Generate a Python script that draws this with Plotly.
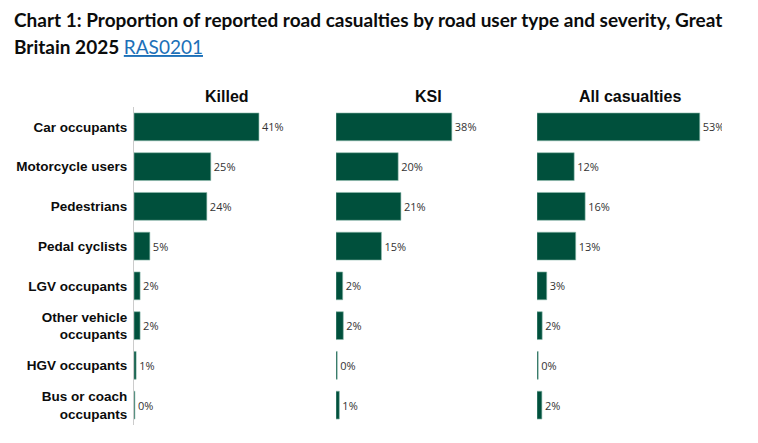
import plotly.graph_objects as go

categories = ["Car occupants", "Motorcycle users", "Pedestrians", "Pedal cyclists",
              "LGV occupants", "Other vehicle<br>occupants", "HGV occupants",
              "Bus or coach<br>occupants"]
killed = [41.0, 25.2, 23.9, 5.2, 2.0, 2.0, 0.7, 0.3]
ksi = [38.0, 20.4, 21.3, 14.9, 2.2, 2.4, 0.4, 1.1]
all_casualties = [53.4, 12.2, 15.8, 12.7, 3.2, 1.7, 0.4, 1.6]
panel_titles = ["Killed", "KSI", "All casualties"]
series = [killed, ksi, all_casualties]

W, H = 758, 443
BAR = "#00503c"
domains = [(134, 319), (336, 521), (537, 722)]
y_top, y_bot = 107, 425
xmax = 60.7

fig = go.Figure()
for i, (vals, dom) in enumerate(zip(series, domains)):
    n = "" if i == 0 else str(i + 1)
    fig.add_trace(go.Bar(
        x=vals, y=categories, orientation="h",
        xaxis="x" + n, yaxis="y" + n,
        marker=dict(color=BAR, line=dict(color="#8fbcae", width=0.6)),
        texttemplate="%{x:.0f}%", textposition="outside",
        textfont=dict(family="Open Sans", size=11, color="#333333"),
        constraintext="none", cliponaxis=True,
        hoverinfo="skip", showlegend=False,
    ))
    fig.layout["xaxis" + n] = dict(
        domain=[dom[0] / W, dom[1] / W], range=[0, xmax], visible=False,
        anchor="y" + n, fixedrange=True)
    fig.layout["yaxis" + n] = dict(
        domain=[1 - y_bot / H, 1 - y_top / H], anchor="x" + n,
        categoryorder="array", categoryarray=categories, autorange="reversed",
        showticklabels=(i == 0), showline=(i == 0), linecolor="#cccccc", linewidth=1,
        showgrid=False, zeroline=False, ticks="", ticklabelstandoff=3,
        tickfont=dict(family="Liberation Sans", size=13.5, color="#0b0c0c", weight="bold"),
        fixedrange=True)
    fig.add_annotation(
        x=(dom[0] + dom[1]) / 2 / W, y=1 - 96 / H, xref="paper", yref="paper",
        text=panel_titles[i], showarrow=False, xanchor="center", yanchor="middle",
        font=dict(family="Liberation Sans", size=16, color="#0b0c0c", weight="bold"))

title_font = dict(family="Lato", size=19, color="#0b0c0c", weight="bold")
fig.add_annotation(
    x=12 / W, y=1 - 20 / H, xref="paper", yref="paper", xanchor="left", yanchor="middle",
    showarrow=False, font=title_font,
    text="Chart 1: Proportion of reported road casualties by road user type and severity, Great")
fig.add_annotation(
    x=12 / W, y=1 - 46 / H, xref="paper", yref="paper", xanchor="left", yanchor="middle",
    showarrow=False, font=title_font,
    text="Britain 2025 <span style='font-weight:normal;fill:#1d70b8'><u>RAS0201</u></span>")

fig.update_layout(
    width=W, height=H, margin=dict(l=0, r=0, t=0, b=0),
    paper_bgcolor="white", plot_bgcolor="white", bargap=0.3,
)
fig.write_html("out.html")
